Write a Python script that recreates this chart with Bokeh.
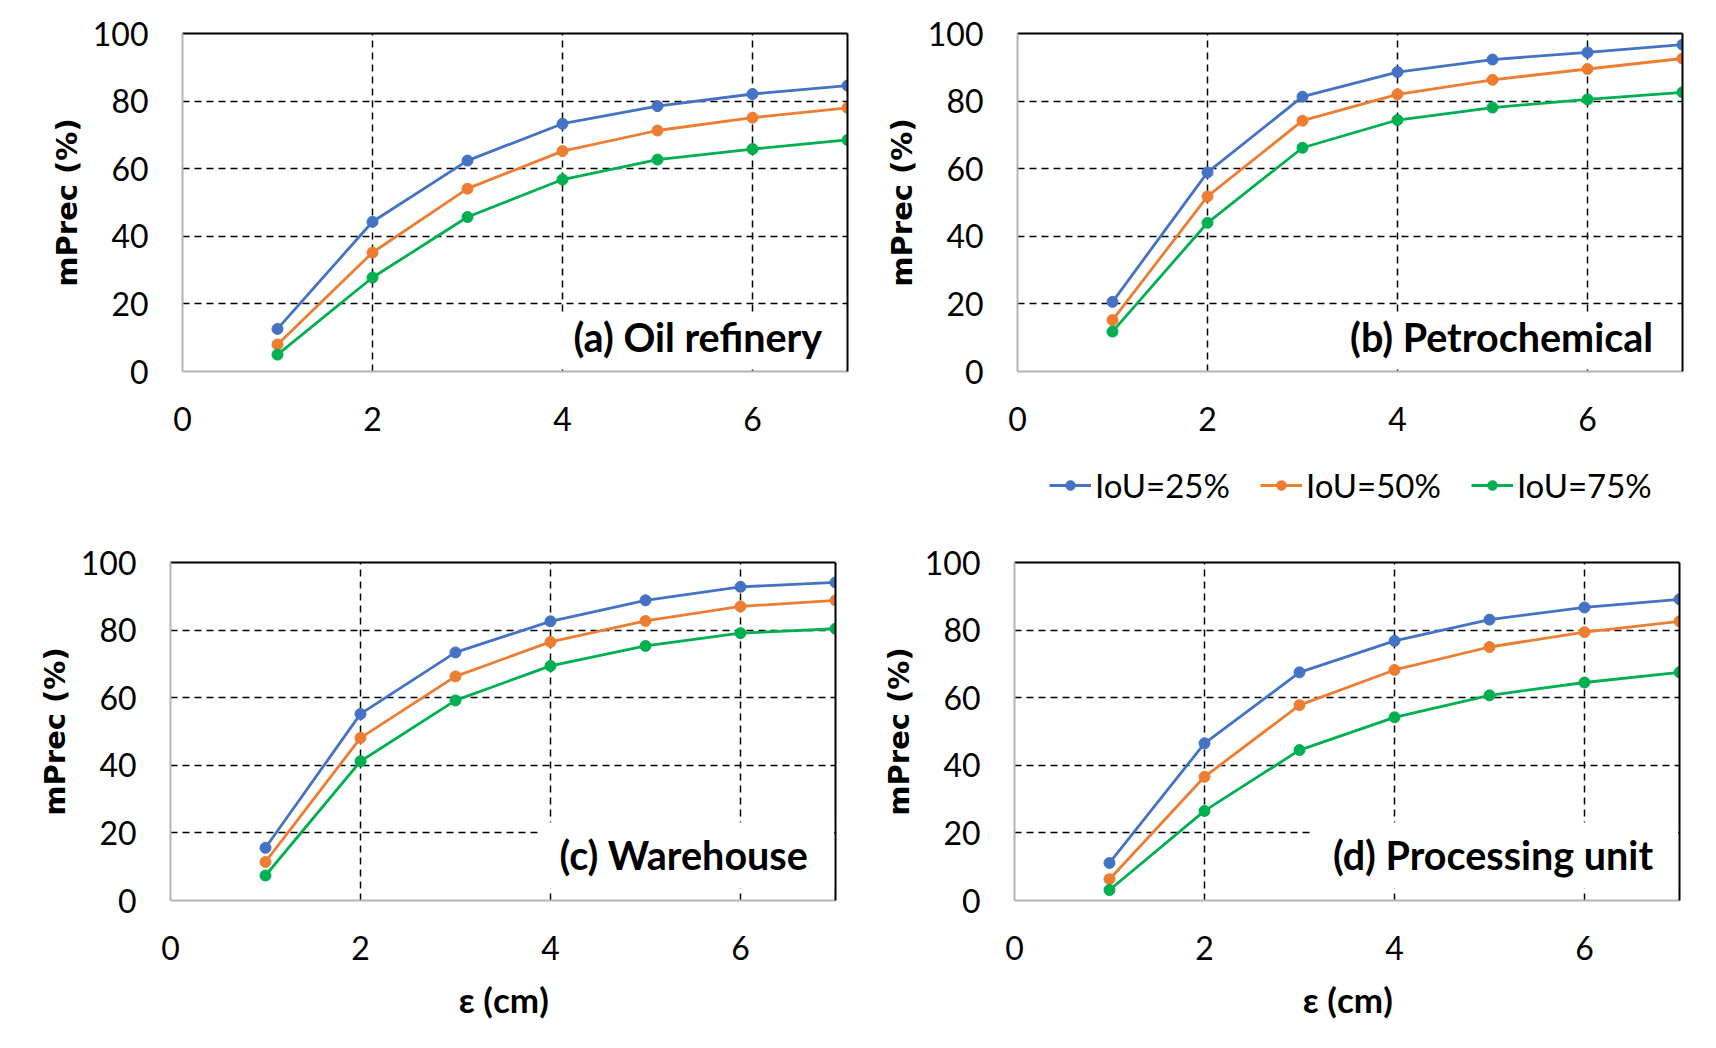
from bokeh.plotting import figure
from bokeh.models import Range1d, FixedTicker, LinearAxis, Label, Legend, LegendItem, Spacer
from bokeh.layouts import column, row
from bokeh.embed import file_html
from bokeh.resources import INLINE

# ---------------- data ----------------
eps = [1, 2, 3, 4, 5, 6, 7]
series_labels = ["IoU=25%", "IoU=50%", "IoU=75%"]

a_25 = [12.6, 44.3, 62.4, 73.3, 78.5, 82.1, 84.6]
a_50 = [8.0, 35.2, 54.1, 65.2, 71.3, 75.1, 78.0]
a_75 = [5.0, 27.8, 45.7, 56.8, 62.7, 65.8, 68.5]

b_25 = [20.6, 58.9, 81.3, 88.6, 92.3, 94.4, 96.7]
b_50 = [15.2, 51.8, 74.2, 82.0, 86.3, 89.5, 92.6]
b_75 = [11.8, 44.0, 66.2, 74.4, 78.1, 80.5, 82.6]

c_25 = [15.6, 55.2, 73.4, 82.6, 88.8, 92.8, 94.1]
c_50 = [11.4, 48.1, 66.3, 76.5, 82.7, 87.0, 88.8]
c_75 = [7.4, 41.2, 59.2, 69.4, 75.3, 79.1, 80.4]

d_25 = [11.1, 46.5, 67.5, 76.8, 83.1, 86.7, 89.1]
d_50 = [6.3, 36.6, 57.8, 68.2, 75.0, 79.4, 82.6]
d_75 = [3.1, 26.5, 44.5, 54.2, 60.7, 64.5, 67.5]

panel_titles = ["(a) Oil refinery", "(b) Petrochemical", "(c) Warehouse", "(d) Processing unit"]
x_ticks = [0, 2, 4, 6]
y_ticks = [0, 20, 40, 60, 80, 100]
x_grid = [2, 4, 6]
y_grid = [20, 40, 60, 80]
y_label = "mPrec (%)"
x_label = "ε (cm)"

colors = ["#4472C4", "#ED7D31", "#00B050"]

TICK_FONT = "Lato"
GRAY = "#b4b4b4"


def make_panel(series, title, box_bottom, pad, borders, show_xlabel):
    L, R, T, B = borders
    p = figure(frame_width=665, frame_height=338,
               x_range=Range1d(0, 7), y_range=Range1d(0, 100),
               output_backend="svg", toolbar_location=None,
               min_border_left=L, min_border_right=R,
               min_border_top=T, min_border_bottom=B)
    p.outline_line_color = None
    p.background_fill_color = "white"
    p.border_fill_color = "white"

    xa = p.xaxis[0]
    xa.ticker = FixedTicker(ticks=x_ticks)
    ya = p.yaxis[0]
    ya.ticker = FixedTicker(ticks=y_ticks)
    for ax in (xa, ya):
        ax.axis_line_color = GRAY
        ax.axis_line_width = 2
        ax.major_tick_line_color = None
        ax.minor_tick_line_color = None
        ax.major_tick_out = 0
        ax.major_tick_in = 0
        ax.major_label_text_font = TICK_FONT
        ax.major_label_text_font_size = "32px"
        ax.major_label_text_color = "black"
    xa.major_label_standoff = 35
    ya.major_label_standoff = 34
    ya.axis_label = y_label
    ya.axis_label_text_font = "DejaVu Sans"
    ya.axis_label_text_font_style = "bold"
    ya.axis_label_text_font_size = "29px"
    ya.axis_label_text_color = "black"
    ya.axis_label_standoff = 6
    if show_xlabel:
        xa.axis_label = x_label
        xa.axis_label_text_font = "Lato"
        xa.axis_label_text_font_style = "bold"
        xa.axis_label_text_font_size = "35px"
        xa.axis_label_text_color = "black"
        xa.axis_label_standoff = 15

    for side in ("above", "right"):
        ax = LinearAxis(ticker=FixedTicker(ticks=[]),
                        major_label_text_font_size="0px",
                        axis_line_color="black", axis_line_width=2,
                        major_tick_line_color=None, minor_tick_line_color=None,
                        major_tick_out=0, major_tick_in=0)
        p.add_layout(ax, side)

    p.xgrid.ticker = FixedTicker(ticks=x_grid)
    p.ygrid.ticker = FixedTicker(ticks=y_grid)
    for g in (p.xgrid, p.ygrid):
        g.grid_line_color = "black"
        g.grid_line_width = 1.5
        g.grid_line_dash = "7 5"

    rends = []
    for vals, col in zip(series, colors):
        lr = p.line(eps, vals, line_color=col, line_width=2.8)
        sr = p.scatter(eps, vals, size=11, fill_color=col, line_color=col)
        rends.append((lr, sr))

    lab = Label(x=6.985, y=box_bottom, text=title, text_align="right",
                text_baseline="bottom",
                text_font="Lato", text_font_style="bold", text_font_size="39.5px",
                text_color="black", background_fill_color="white",
                padding=pad)
    p.add_layout(lab)
    return p, rends


pa, _ = make_panel([a_25, a_50, a_75], panel_titles[0], 0.6, (20, 24, 0, 9),
                   (182, 10, 33, 90), False)
pb, rb = make_panel([b_25, b_50, b_75], panel_titles[1], 0.6, (20, 28, 0, 9),
                    (160, 20, 33, 90), False)
pc, _ = make_panel([c_25, c_50, c_75], panel_titles[2], 3.55, (20, 26, 8, 11),
                   (170, 10, 51, 130), True)
pd, _ = make_panel([d_25, d_50, d_75], panel_titles[3], 3.55, (20, 25, 8, 11),
                   (169, 20, 51, 130), True)

# legend strip between the two rows: its renderers hold panel (b)'s series,
# but the strip's x range lies outside the data, so only the legend shows
leg_fig = figure(width=700, height=50, x_range=Range1d(-2, -1), y_range=Range1d(0, 1),
                 x_axis_type=None, y_axis_type=None, toolbar_location=None,
                 output_backend="svg", min_border=0)
leg_fig.outline_line_color = None
leg_fig.border_fill_color = "white"
items = []
for lbl, col, vals in zip(series_labels, colors, [b_25, b_50, b_75]):
    lr = leg_fig.line(eps, vals, line_color=col, line_width=2.8)
    sr = leg_fig.scatter(eps, vals, size=11, fill_color=col, line_color=col)
    items.append(LegendItem(label=lbl, renderers=[lr, sr]))
legend = Legend(items=items, orientation="horizontal", location=(49, 6),
                label_text_font=TICK_FONT, label_text_font_size="33px",
                label_text_color="black",
                glyph_width=42, glyph_height=24, label_standoff=4, spacing=30,
                border_line_color=None, background_fill_alpha=0,
                padding=0, margin=0)
leg_fig.add_layout(legend, "center")

layout = column(row(pa, pb),
                row(Spacer(width=1000, height=50), leg_fig),
                row(pc, pd))

with open("out.html", "w") as f:
    f.write(file_html(layout, INLINE))
